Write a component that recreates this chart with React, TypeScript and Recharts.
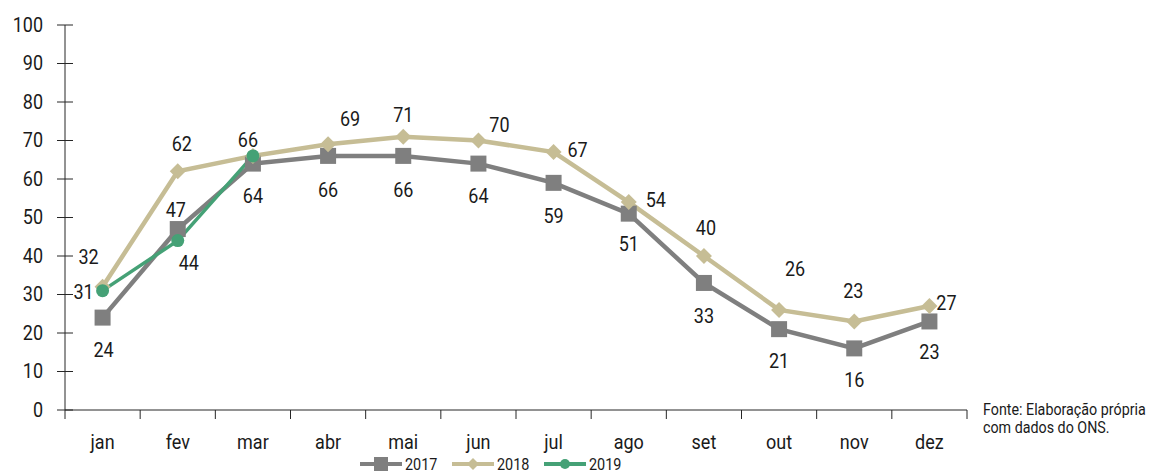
import React from 'react';
import { LineChart, Line, XAxis, YAxis, LabelList } from 'recharts';

const months = ['jan', 'fev', 'mar', 'abr', 'mai', 'jun', 'jul', 'ago', 'set', 'out', 'nov', 'dez'];
const s2017 = [24, 47, 64, 66, 66, 64, 59, 51, 33, 21, 16, 23];
const s2018 = [32, 62, 66, 69, 71, 70, 67, 54, 40, 26, 23, 27];
const s2019 = [31, 44, 66];
const yTicks = [0, 10, 20, 30, 40, 50, 60, 70, 80, 90, 100];

const data = months.map((m, i) => ({
  month: m,
  y2017: s2017[i],
  y2018: s2018[i],
  y2019: i < s2019.length ? s2019[i] : null,
}));

const COLORS = {
  y2017: '#7f7f7f',
  y2018: '#c6bd95',
  y2019: '#45a176',
  axis: '#262626',
  text: '#1a1a1a',
};

// no condensed font installed, so Roboto gets squeezed horizontally
const FONT = 'Roboto, "Noto Sans", sans-serif';
const SX = 0.9;

// layout of the plot area
const W = 1151;
const H = 472;
const LEFT = 65;
const RIGHT = 967;
const TOP = 25;
const BOTTOM = 410;
const STEP = (RIGHT - LEFT) / months.length;

// label placement (dx, dy from the point), null = hidden
const off2017: [number, number][] = [
  [1, 33], [-2, -19], [0, 33], [0, 34], [0, 34], [0, 33],
  [0, 33], [0, 31], [0, 33], [0, 32], [0, 32], [0, 31],
];
const off2018: ([number, number] | null)[] = [
  [-14, -30], [4, -27], null, [22, -25], [0, -21], [21, -15],
  [24, -2], [27, -2], [2, -28], [16, -41], [-1, -30], [17, -3],
];
const off2019: [number, number][] = [[-19, 2], [11, 23], [-5, -16]];

const SText = ({ x, y, anchor = 'middle', size = 20, children }: any) => (
  <text
    transform={`translate(${x},${y}) scale(${SX},1)`}
    textAnchor={anchor}
    dominantBaseline="central"
    fontSize={size}
    fontFamily={FONT}
    fill={COLORS.text}
  >
    {children}
  </text>
);

const makeLabel = (offs: ([number, number] | null)[]) => (props: any) => {
  const { x, y, value, index } = props;
  const o = offs[index];
  if (!o || value == null) return null;
  return (
    <SText x={x + o[0]} y={y + o[1]}>
      {value}
    </SText>
  );
};

const SquareDot = (props: any) => {
  const { cx, cy, index } = props;
  if (cx == null || cy == null) return null;
  return <rect key={`sq-${index}`} x={cx - 8} y={cy - 8} width={16} height={16} fill={COLORS.y2017} />;
};

const DiamondDot = (props: any) => {
  const { cx, cy, index } = props;
  if (cx == null || cy == null) return null;
  const r = 8;
  return (
    <polygon
      key={`dm-${index}`}
      points={`${cx},${cy - r} ${cx + r},${cy} ${cx},${cy + r} ${cx - r},${cy}`}
      fill={COLORS.y2018}
    />
  );
};

const CircleDot = (props: any) => {
  const { cx, cy, index } = props;
  if (cx == null || cy == null) return null;
  return <circle key={`ci-${index}`} cx={cx} cy={cy} r={6.5} fill={COLORS.y2019} />;
};

const XTick = (props: any) => {
  const { x, payload, index } = props;
  const left = x - STEP / 2;
  return (
    <g>
      <line x1={left} y1={BOTTOM} x2={left} y2={BOTTOM + 9} stroke={COLORS.axis} />
      {index === months.length - 1 && (
        <line x1={x + STEP / 2} y1={BOTTOM} x2={x + STEP / 2} y2={BOTTOM + 9} stroke={COLORS.axis} />
      )}
      <SText x={x} y={442}>{payload.value}</SText>
    </g>
  );
};

const YTick = (props: any) => {
  const { y, payload } = props;
  return (
    <g>
      <line x1={LEFT - 8} y1={y} x2={LEFT + 8} y2={y} stroke={COLORS.axis} />
      <SText x={LEFT - 22} y={y} anchor="end">{payload.value}</SText>
    </g>
  );
};

const LegendItem = ({ color, label, marker }: { color: string; label: string; marker: React.ReactNode }) => (
  <div style={{ display: 'flex', alignItems: 'center', marginRight: 9 }}>
    <svg width={46} height={16}>
      <line x1={2} y1={8} x2={44} y2={8} stroke={color} strokeWidth={4} />
      {marker}
    </svg>
    <span style={{ marginLeft: 1, display: 'inline-block', transform: `scaleX(${SX})`, transformOrigin: 'left center' }}>{label}</span>
  </div>
);

export default function App() {
  return (
    <div style={{ position: 'absolute', left: 0, top: 0, width: W, height: H, background: '#fff', overflow: 'hidden', fontFamily: FONT }}>
      <LineChart
        width={W}
        height={H}
        data={data}
        margin={{ top: TOP, right: W - RIGHT, left: 5, bottom: H - BOTTOM - 30 }}
      >
        <XAxis
          dataKey="month"
          interval={0}
          height={30}
          tickLine={false}
          axisLine={{ stroke: COLORS.axis }}
          padding={{ left: STEP / 2, right: STEP / 2 }}
          tick={<XTick />}
        />
        <YAxis
          width={60}
          domain={[0, 100]}
          ticks={yTicks}
          interval={0}
          tickLine={false}
          axisLine={{ stroke: COLORS.axis }}
          tick={<YTick />}
        />
        <Line
          dataKey="y2017"
          stroke={COLORS.y2017}
          strokeWidth={4.5}
          dot={SquareDot}
          activeDot={false}
          isAnimationActive={false}
        >
          <LabelList dataKey="y2017" content={makeLabel(off2017)} />
        </Line>
        <Line
          dataKey="y2018"
          stroke={COLORS.y2018}
          strokeWidth={4.5}
          dot={DiamondDot}
          activeDot={false}
          isAnimationActive={false}
        >
          <LabelList dataKey="y2018" content={makeLabel(off2018)} />
        </Line>
        <Line
          dataKey="y2019"
          stroke={COLORS.y2019}
          strokeWidth={3.5}
          dot={CircleDot}
          activeDot={false}
          connectNulls={false}
          isAnimationActive={false}
        >
          <LabelList dataKey="y2019" content={makeLabel(off2019)} />
        </Line>
      </LineChart>

      <div
        style={{
          position: 'absolute',
          left: 358,
          top: 456,
          display: 'flex',
          fontSize: 16,
          color: COLORS.text,
          lineHeight: '15px',
        }}
      >
        <LegendItem color={COLORS.y2017} label="2017" marker={<rect x={16} y={1} width={14} height={14} fill={COLORS.y2017} />} />
        <LegendItem color={COLORS.y2018} label="2018" marker={<polygon points="23,2 29,8 23,14 17,8" fill={COLORS.y2018} />} />
        <LegendItem color={COLORS.y2019} label="2019" marker={<circle cx={23} cy={8} r={5} fill={COLORS.y2019} />} />
      </div>

      <div
        style={{
          position: 'absolute',
          left: 983,
          top: 400,
          fontSize: 17,
          lineHeight: '18px',
          color: COLORS.text,
          whiteSpace: 'nowrap',
          transform: 'scaleX(0.84)',
          transformOrigin: 'left top',
        }}
      >
        Fonte: Elaboração própria
        <br />
        com dados do ONS.
      </div>
    </div>
  );
}
